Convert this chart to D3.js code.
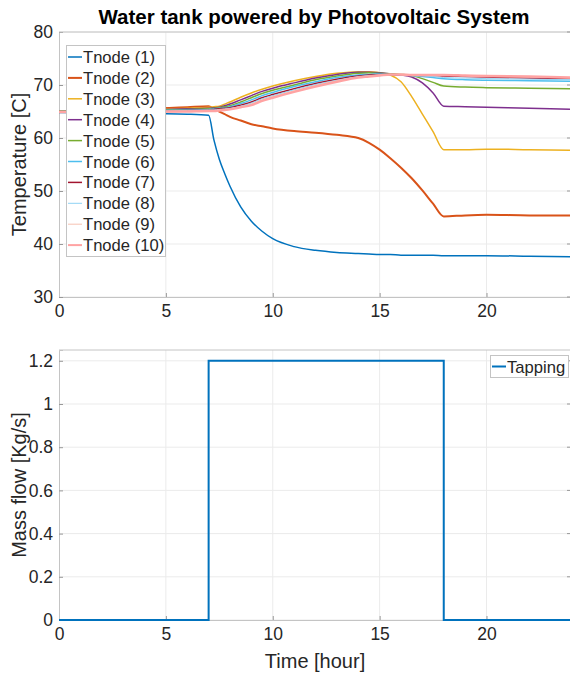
<!DOCTYPE html>
<html>
<head>
<meta charset="utf-8">
<script src="https://cdn.jsdelivr.net/npm/d3@7"></script>
<style>
  body { margin: 0; background: #fff; }
  text { font-family: "Liberation Sans", Arial, sans-serif; }
</style>
</head>
<body>
<div id="chart"></div>
<script>
// time axis shared by the temperature nodes [hour]
const hours = [0, 3, 6, 7, 7.25, 7.5, 7.75, 8, 8.5, 9, 9.5, 10, 11, 12, 13, 14, 14.5, 15, 15.5, 16, 16.5, 17, 17.5, 18, 19, 20, 22, 24];

const tnode1  = [64.8, 64.7, 64.5, 64.3, 59.6, 56.0, 53.3, 50.9, 47.0, 44.3, 42.4, 41.0, 39.5, 38.8, 38.4, 38.2, 38.1, 38.0, 38.0, 37.9, 37.9, 37.9, 37.9, 37.8, 37.8, 37.8, 37.7, 37.6];
const tnode2  = [65.0, 65.4, 65.8, 66.0, 65.5, 65.0, 64.5, 64.0, 63.3, 62.6, 62.2, 61.8, 61.3, 61.0, 60.6, 60.0, 59.1, 57.8, 56.2, 54.4, 52.4, 50.1, 47.6, 45.2, 45.4, 45.5, 45.4, 45.4];
const tnode3  = [65.1, 65.3, 65.6, 65.8, 65.9, 66.0, 66.4, 66.8, 67.7, 68.5, 69.2, 69.8, 70.8, 71.6, 72.2, 72.5, 72.5, 72.3, 71.9, 70.6, 67.8, 64.5, 61.2, 57.8, 57.8, 57.9, 57.8, 57.7];
const tnode4  = [65.0, 65.2, 65.5, 65.6, 65.7, 65.8, 66.1, 66.4, 67.2, 68.0, 68.8, 69.4, 70.4, 71.3, 72.0, 72.4, 72.4, 72.3, 72.1, 71.9, 71.5, 70.4, 68.5, 66.0, 65.9, 65.8, 65.6, 65.4];
const tnode5  = [65.0, 65.1, 65.4, 65.5, 65.6, 65.7, 65.9, 66.1, 66.8, 67.6, 68.4, 69.0, 70.0, 71.0, 71.7, 72.2, 72.3, 72.2, 72.1, 72.0, 71.8, 71.2, 70.5, 69.8, 69.6, 69.5, 69.4, 69.3];
const tnode6  = [65.0, 65.1, 65.3, 65.4, 65.5, 65.6, 65.7, 65.9, 66.5, 67.2, 68.0, 68.6, 69.7, 70.6, 71.4, 71.9, 72.0, 72.1, 72.0, 71.9, 71.8, 71.6, 71.4, 71.2, 71.0, 70.9, 70.8, 70.7];
const tnode7  = [64.9, 65.0, 65.2, 65.3, 65.4, 65.5, 65.6, 65.7, 66.2, 66.8, 67.6, 68.2, 69.3, 70.3, 71.1, 71.7, 71.9, 72.0, 72.0, 71.9, 71.9, 71.8, 71.8, 71.7, 71.6, 71.5, 71.3, 71.2];
const tnode8  = [64.9, 65.0, 65.2, 65.3, 65.3, 65.4, 65.5, 65.6, 66.0, 66.6, 67.4, 68.0, 69.1, 70.1, 70.9, 71.6, 71.8, 71.9, 72.0, 71.9, 71.8, 71.7, 71.6, 71.4, 71.3, 71.2, 71.1, 71.0];
const tnode9  = [64.9, 65.0, 65.1, 65.2, 65.2, 65.3, 65.4, 65.5, 65.9, 66.4, 67.2, 67.8, 68.9, 69.9, 70.8, 71.5, 71.7, 71.9, 72.0, 71.9, 71.9, 71.9, 71.8, 71.8, 71.7, 71.6, 71.5, 71.3];
const tnode10 = [64.9, 64.9, 65.0, 65.1, 65.1, 65.2, 65.3, 65.4, 65.8, 66.2, 67.0, 67.6, 68.7, 69.7, 70.6, 71.4, 71.6, 71.8, 72.0, 72.0, 71.9, 71.9, 71.9, 71.9, 71.8, 71.7, 71.6, 71.4];

const nodeNames = ["Tnode (1)", "Tnode (2)", "Tnode (3)", "Tnode (4)", "Tnode (5)", "Tnode (6)", "Tnode (7)", "Tnode (8)", "Tnode (9)", "Tnode (10)"];
const nodeColors = ["#0072BD", "#D95319", "#EDB120", "#7E2F8E", "#77AC30", "#4DBEEE", "#A2142F", "#8fd3f4", "#f6c3b3", "#ffa3a3"];
const nodeWidths = [1.5, 2, 1.5, 1.5, 1.5, 1.5, 1.5, 1, 1, 2.5];

// tapping mass flow
const tapHours = [0, 7, 18, 24];
const tapFlow  = [0, 1.2, 0, 0];

const xTicks = [0, 5, 10, 15, 20];
const tempTicks = [30, 40, 50, 60, 70, 80];
const flowTicks = [0, 0.2, 0.4, 0.6, 0.8, 1, 1.2];

const W = 570, H = 677;
const left = 59, right = 572;
const svg = d3.select("#chart").append("svg").attr("width", W).attr("height", H);

const axisGrey = "#c4c4c4", gridGrey = "#ebebeb", textGrey = "#262626";

svg.append("text")
  .attr("x", 314).attr("y", 24)
  .attr("text-anchor", "middle")
  .style("font-weight", "bold").style("font-size", "20.5px")
  .attr("fill", "#000")
  .text("Water tank powered by Photovoltaic System");

function panel(top, bottom, yDomain, yTicks, yLabel, yFmt) {
  const x = d3.scaleLinear().domain([0, 24]).range([left, right]);
  const y = d3.scaleLinear().domain(yDomain).range([bottom, top]);
  const g = svg.append("g");

  // grid
  g.selectAll(".vg").data(xTicks.slice(1)).join("line")
    .attr("x1", d => x(d)).attr("x2", d => x(d))
    .attr("y1", top).attr("y2", bottom)
    .attr("stroke", gridGrey);
  g.selectAll(".hg").data(yTicks).join("line")
    .attr("x1", left).attr("x2", right)
    .attr("y1", d => y(d)).attr("y2", d => y(d))
    .attr("stroke", gridGrey);

  // axes
  const ax = g.append("g").attr("transform", `translate(0,${bottom})`)
    .call(d3.axisBottom(x).tickValues(xTicks).tickSize(-4).tickPadding(8));
  const ay = g.append("g").attr("transform", `translate(${left},0)`)
    .call(d3.axisLeft(y).tickValues(yTicks).tickSize(-4).tickPadding(6).tickFormat(yFmt));
  [ax, ay].forEach(a => {
    a.select(".domain").attr("stroke", axisGrey);
    a.selectAll(".tick line").attr("stroke", "#999");
    a.selectAll("text").attr("fill", textGrey).style("font-size", "17.5px")
      .style("font-family", "'Liberation Sans', Arial, sans-serif");
  });
  // box top and right
  g.append("line").attr("x1", left).attr("x2", right).attr("y1", top).attr("y2", top).attr("stroke", axisGrey);
  g.append("line").attr("x1", right).attr("x2", right).attr("y1", top).attr("y2", bottom).attr("stroke", axisGrey);
  g.selectAll(".rt").data(yTicks).join("line")
    .attr("x1", right - 5).attr("x2", right).attr("y1", d => y(d)).attr("y2", d => y(d))
    .attr("stroke", "#999");

  svg.append("text")
    .attr("transform", `translate(26,${(top + bottom) / 2}) rotate(-90)`)
    .attr("text-anchor", "middle")
    .attr("fill", textGrey).style("font-size", "20px")
    .text(yLabel);
  return {x, y, g};
}

// top panel: temperatures
const p1 = panel(32, 297, [30, 80], tempTicks, "Temperature [C]", d3.format("d"));
const nodes = [tnode1, tnode2, tnode3, tnode4, tnode5, tnode6, tnode7, tnode8, tnode9, tnode10];
const line1 = d3.line().x((d, i) => p1.x(hours[i])).y(d => p1.y(d)).curve(d3.curveMonotoneX);
nodes.forEach((vals, k) => {
  p1.g.append("path").datum(vals)
    .attr("d", line1)
    .attr("fill", "none")
    .attr("stroke", nodeColors[k])
    .attr("stroke-width", nodeWidths[k]);
});

// legend top
const lg = svg.append("g");
lg.append("rect").attr("x", 66.5).attr("y", 45.5).attr("width", 99).attr("height", 211)
  .attr("fill", "#fff").attr("stroke", axisGrey);
nodeNames.forEach((n, k) => {
  const yy = 57 + k * 20.9;
  lg.append("line").attr("x1", 68).attr("x2", 82).attr("y1", yy).attr("y2", yy)
    .attr("stroke", nodeColors[k]).attr("stroke-width", Math.min(nodeWidths[k], 2));
  lg.append("text").attr("x", 83).attr("y", yy + 6)
    .attr("fill", textGrey).style("font-size", "16.6px").text(n);
});

// bottom panel: tapping
const p2 = panel(350, 620, [0, 1.25], flowTicks, "Mass flow [Kg/s]", d => d === 0 || d === 1 ? d3.format("d")(d) : d3.format(".1f")(d));
const line2 = d3.line().x((d, i) => p2.x(tapHours[i])).y(d => p2.y(d)).curve(d3.curveStepAfter);
p2.g.append("path").datum(tapFlow)
  .attr("d", line2)
  .attr("fill", "none")
  .attr("stroke", "#0072BD")
  .attr("stroke-width", 2);

const lg2 = svg.append("g");
lg2.append("rect").attr("x", 490.5).attr("y", 355.5).attr("width", 78).attr("height", 22)
  .attr("fill", "#fff").attr("stroke", axisGrey);
lg2.append("line").attr("x1", 492).attr("x2", 506).attr("y1", 366.5).attr("y2", 366.5)
  .attr("stroke", "#0072BD").attr("stroke-width", 2);
lg2.append("text").attr("x", 507).attr("y", 372.5).attr("fill", textGrey).style("font-size", "16.6px").text("Tapping");

svg.append("text")
  .attr("x", 315).attr("y", 668)
  .attr("text-anchor", "middle")
  .attr("fill", textGrey).style("font-size", "20px")
  .text("Time [hour]");
</script>
</body>
</html>
